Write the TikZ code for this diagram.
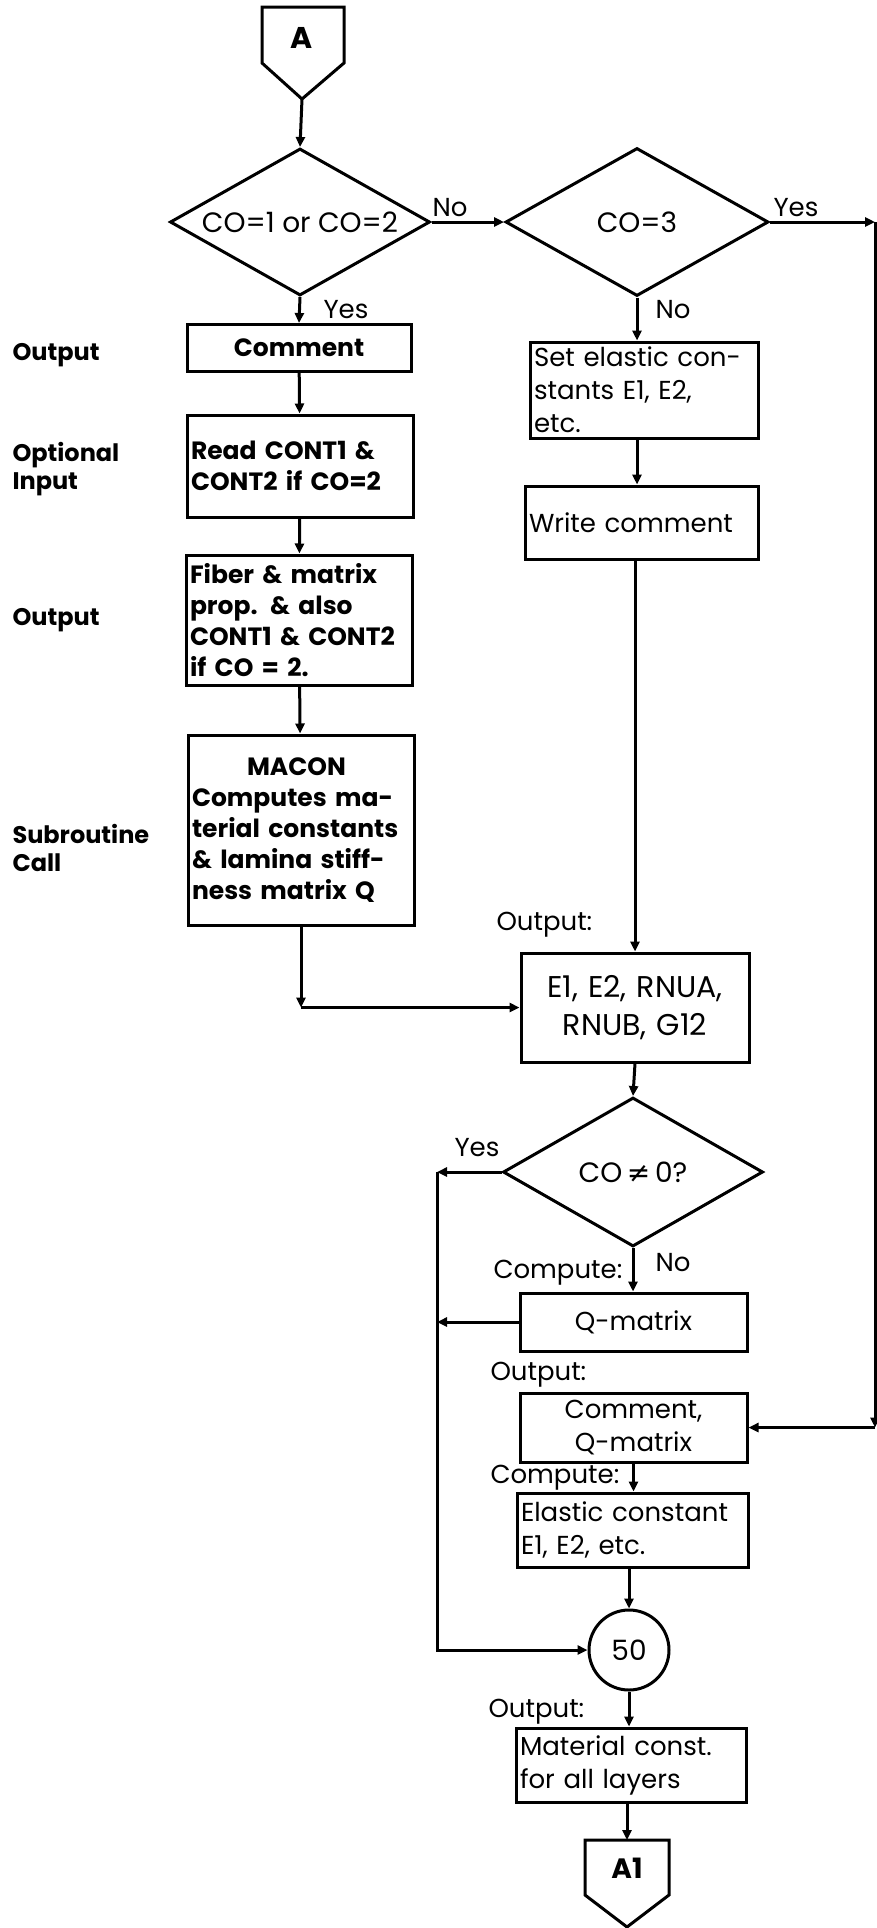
\documentclass[tikz,border=0pt]{standalone}
\usepackage{fontspec}
\setmainfont{Poppins}
\newfontfamily\simbolo{DejaVu Sans}
\usetikzlibrary{shapes.geometric,arrows.meta}

\begin{document}
\begin{tikzpicture}[x=0.5pt,y=-0.5pt,line width=1.5pt,
    caja/.style={draw,rectangle,inner xsep=2pt,inner ysep=0pt,align=left,
        font=\fontsize{13}{16.5}\selectfont},
    cajab/.style={caja,font=\bfseries\fontsize{12.5}{15.5}\selectfont},
    rombo/.style={draw,diamond,inner sep=0pt,font=\fontsize{14}{16}\selectfont},
    flecha/.style={-{Triangle[length=5pt,width=4.5pt]}},
    etiq/.style={inner sep=0pt,font=\fontsize{13}{15}\selectfont},
    etiqb/.style={inner sep=0pt,anchor=west,align=left,font=\bfseries\fontsize{12}{14}\selectfont}]
    \useasboundingbox (0,0) rectangle (877,1928);

    %—————— conector A ——————
    \draw (262,7) -- (344,7) -- (344,63) -- (302,99) -- (262,63) -- cycle;
    \node[font=\bfseries\fontsize{15}{17}\selectfont] (conA) at (302,38) {A};
    \coordinate (Apunta) at (302,99);

    %—————— decisiones ——————
    \node[rombo,inner xsep=-25pt,minimum width=130pt,minimum height=73.5pt] (d1) at (300,222) {CO=1 or CO=2};
    \node[rombo,minimum width=131.5pt,minimum height=74pt] (d2) at (637,222) {CO=3};
    \node[rombo,minimum width=130pt,minimum height=74.5pt] (d3) at (633,1172) {CO\,{\simbolo ≠}\,0?};

    %—————— columna izquierda ——————
    \node[cajab,align=center,text width=108pt,minimum height=23.5pt] (coment) at (299,348) {Comment};
    \node[cajab,text width=109pt,minimum height=51pt] (leer) at (300,466) {Read CONT1 \&\\\mbox{CONT2 if CO=2}};
    \node[cajab,text width=109pt,minimum height=65pt] (fibra) at (299,620)
        {Fiber \& matrix\\prop. \& also\\\mbox{CONT1 \& CONT2}\\if CO = 2.};
    \node[cajab,text width=109pt,minimum height=95pt] (macon) at (301,830)
        {\hspace*{2.2em}MACON\\Computes ma-\\terial constants\\\& lamina stiff-\\ness matrix Q};

    % etiquetas al margen
    \node[etiqb] (lout1) at (11,355) {Output};
    \node[etiqb] (lopt) at (11,469) {Optional\\Input};
    \node[etiqb] (lout2) at (11,620) {Output};
    \node[etiqb] (lsub) at (11,848) {Subroutine\\Call};

    %—————— columna derecha ——————
    \node[caja,text width=110pt,minimum height=48pt] (elas) at (644,390)
        {Set elastic con-\\stants E1, E2,\\etc.};
    \node[caja,text width=112.5pt,minimum height=36.5pt] (escr) at (641.5,522.5) {Write comment};
    \node[caja,align=center,text width=110pt,minimum height=54.5pt,
        font=\fontsize{15}{19}\selectfont] (econ) at (635,1007.5) {E1, E2, RNUA,\\RNUB, G12};
    \node[caja,align=center,text width=109.5pt,minimum height=29pt] (qmat) at (633.5,1322) {Q-matrix};
    \node[caja,align=center,text width=109.5pt,minimum height=34.5pt] (cq) at (633.5,1427.5) {Comment,\\Q-matrix};
    \node[caja,text width=111.5pt,minimum height=37pt] (elc) at (632.5,1530) {Elastic constant\\E1, E2, etc.};
    \node[draw,circle,minimum size=40pt,inner sep=0pt,font=\fontsize{14}{16}\selectfont] (c50) at (629,1650) {50};
    \node[caja,text width=111pt,minimum height=37pt] (mat) at (631,1765) {Material const.\\for all layers};

    %—————— conector A1 ——————
    \draw (585,1840) -- (669,1840) -- (669,1895) -- (627,1927) -- (585,1895) -- cycle;
    \node[font=\bfseries\fontsize{14}{16}\selectfont] (conA1) at (627,1868) {A1};
    \coordinate (A1arriba) at (627,1840);

    % etiquetas de la derecha
    \node[etiq,anchor=west] (lout3) at (495,925) {Output:};
    \node[etiq,anchor=west] (lcomp1) at (492,1273) {Compute:};
    \node[etiq,anchor=west] (lout4) at (489,1375) {Output:};
    \node[etiq,anchor=west] (lcomp2) at (489,1478) {Compute:};
    \node[etiq,anchor=west] (lout5) at (487,1712) {Output:};

    % si / no
    \node[etiq,anchor=west] (si1) at (322,310) {Yes};
    \node[etiq,anchor=west] (no1) at (431,208) {No};
    \node[etiq,anchor=west] (no2) at (654,310) {No};
    \node[etiq,anchor=west] (si2) at (772,208) {Yes};
    \node[etiq,anchor=west] (si3) at (453,1148) {Yes};
    \node[etiq,anchor=west] (no3) at (654,1263) {No};

    % puntos de quiebre
    \coordinate (bordeR) at (875,222);
    \coordinate (bordeRb) at (875,1427.5);
    \coordinate (lazo) at (437,1172);

    %—————— flechas ——————
    \draw[flecha] (Apunta) -- (d1.north);
    \draw[flecha] (d1.south) -- (coment.north);
    \draw[flecha] (coment) -- (leer);
    \draw[flecha] (leer) -- (fibra);
    \draw[flecha] (fibra) -- (macon);
    \draw[flecha] (d1.east) -- (d2.west);
    \draw[flecha] (d2.south) -- (d2.south |- elas.north);
    \draw[flecha] (d2.south |- elas.south) -- (d2.south |- escr.north);
    \draw[flecha] (econ.north |- escr.south) -- (econ.north);
    \draw[flecha] (macon.south) -- (macon.south |- econ.west);
    \draw[flecha] (macon.south |- econ.west) -- (econ.west);
    \draw[flecha] (d2.east) -- (bordeR);
    \draw[flecha] (bordeR) -- (bordeRb);
    \draw[flecha] (bordeRb) -- (cq.east);
    \draw[flecha] (econ.south) -- (d3.north);
    \draw[flecha] (d3.west) -- (lazo);
    \draw[flecha] (lazo) |- (c50.west);
    \draw[flecha] (d3.south) -- (d3.south |- qmat.north);
    \draw[flecha] (qmat.west) -- (qmat.west -| lazo);
    \draw[flecha] (cq.south) -- (cq.south |- elc.north);
    \draw[flecha] (c50.north |- elc.south) -- (c50.north);
    \draw[flecha] (c50.south) -- (c50.south |- mat.north);
    \draw[flecha] (A1arriba |- mat.south) -- (A1arriba);
\end{tikzpicture}
\end{document}
